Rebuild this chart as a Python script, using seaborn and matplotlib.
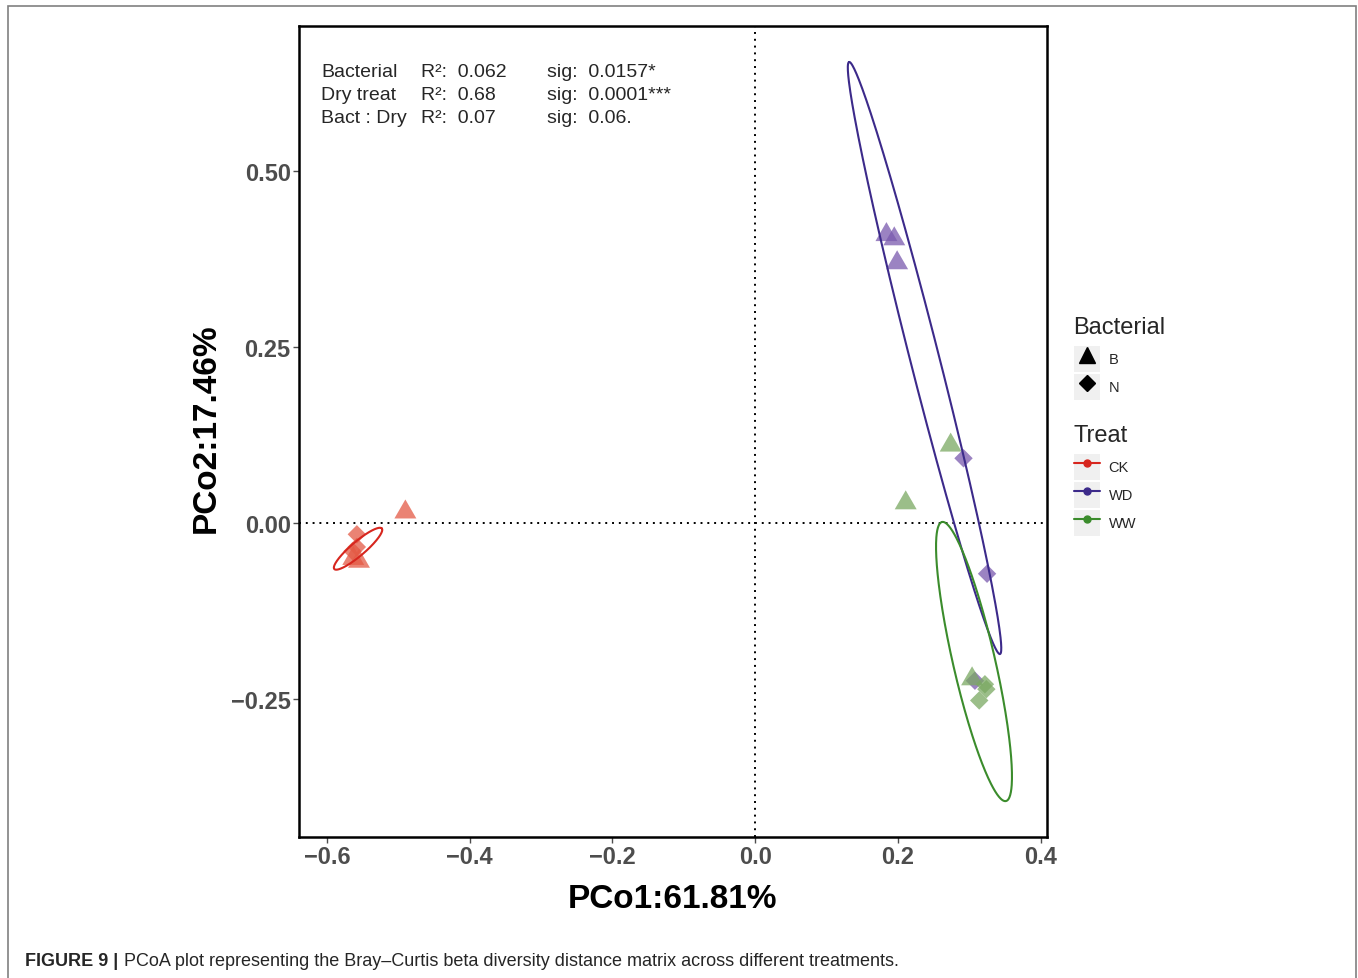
import numpy as np
import pandas as pd
import matplotlib
matplotlib.use("Agg")
import matplotlib.pyplot as plt
import seaborn as sns
from matplotlib.lines import Line2D
from matplotlib.patches import Rectangle
from matplotlib.legend_handler import HandlerTuple

# sample scores
treat = ["CK"] * 6 + ["WD"] * 6 + ["WW"] * 6
bacterial = ["B", "B", "B", "N", "N", "N"] * 3
pco1 = [-0.490, -0.563, -0.555, -0.558, -0.564, -0.558,
        0.184, 0.195, 0.199, 0.292, 0.325, 0.308,
        0.274, 0.211, 0.304, 0.322, 0.324, 0.314]
pco2 = [0.020, -0.046, -0.050, -0.016, -0.040, -0.034,
        0.414, 0.408, 0.374, 0.092, -0.072, -0.224,
        0.115, 0.033, -0.217, -0.229, -0.236, -0.252]

# confidence ellipses: centre, half major axis vector, half minor axis vector
treat_levels = ["CK", "WD", "WW"]
ell_cx = [-0.5563, 0.2374, 0.3067]
ell_cy = [-0.0365, 0.2344, -0.1967]
ell_ax = [0.0333, -0.1057, -0.0448]
ell_ay = [0.0288, 0.4205, 0.1982]
ell_bx = [-0.00636, 0.01968, 0.0287]
ell_by = [0.00756, 0.00509, 0.0067]

x_ticks = [-0.6, -0.4, -0.2, 0.0, 0.2, 0.4]
x_tick_labels = ["\u22120.6", "\u22120.4", "\u22120.2", "0.0", "0.2", "0.4"]
y_ticks = [-0.25, 0.0, 0.25, 0.50]
y_tick_labels = ["\u22120.25", "0.00", "0.25", "0.50"]

stat_terms = ["Bacterial", "Dry treat", "Bact : Dry"]
stat_r2 = ["0.062", "0.68", "0.07"]
stat_sig = ["0.0157*", "0.0001***", "0.06."]

point_colors = {"CK": "#E45A45", "WD": "#7A5AAE", "WW": "#7AA862"}
line_colors = {"CK": "#D7261E", "WD": "#3C2A8A", "WW": "#3B8C2C"}

sns.set_theme(style="white")
plt.rcParams["font.family"] = ["Liberation Sans", "DejaVu Sans"]

df = pd.DataFrame({"Treat": treat, "Bacterial": bacterial, "PCo1": pco1, "PCo2": pco2})

fig = plt.figure(figsize=(13.58, 9.79), dpi=100)
ax = fig.add_axes([0.2202, 0.144, 0.5508, 0.8284])

tri = [(-1, -0.866), (1, -0.866), (0, 0.866)]
ax.axhline(0, color="black", ls=(0, (1, 2.5)), lw=1.4, zorder=1)
ax.axvline(0, color="black", ls=(0, (1, 2.5)), lw=1.4, zorder=1)

sns.scatterplot(data=df, x="PCo1", y="PCo2", hue="Treat", style="Bacterial", size="Bacterial",
                palette=point_colors, markers={"B": tri, "N": "D"}, sizes={"B": 250, "N": 88},
                alpha=0.75, linewidth=0, legend=False, ax=ax, zorder=3)

t = np.linspace(0, 2 * np.pi, 300)
for i, lvl in enumerate(treat_levels):
    ex = ell_cx[i] + ell_ax[i] * np.cos(t) + ell_bx[i] * np.sin(t)
    ey = ell_cy[i] + ell_ay[i] * np.cos(t) + ell_by[i] * np.sin(t)
    ax.plot(ex, ey, color=line_colors[lvl], lw=1.5, zorder=4)

ax.set_xlim(-0.639, 0.409)
ax.set_ylim(-0.446, 0.706)
ax.set_xticks(x_ticks)
ax.set_xticklabels(x_tick_labels, fontweight="bold")
ax.set_yticks(y_ticks)
ax.set_yticklabels(y_tick_labels, fontweight="bold")
ax.tick_params(direction="out", length=4, width=1, color="#4D4D4D", labelcolor="#4D4D4D",
               labelsize=17, pad=2, bottom=True, left=True)
for sp in ax.spines.values():
    sp.set_color("black")
    sp.set_linewidth(1.8)

ax.set_xlabel("PCo1:61.81%", fontsize=24, fontweight="bold", color="black")
ax.set_ylabel("PCo2:17.46%", fontsize=24, fontweight="bold", color="black")
ax.xaxis.set_label_coords(0.4987, -0.057)
ax.yaxis.set_label_coords(-0.103, 0.505)

row_y = [0.9445, 0.916, 0.8878]
for i in range(3):
    ax.text(0.0294, row_y[i], stat_terms[i], transform=ax.transAxes, fontsize=14, va="center")
    ax.text(0.163, row_y[i], "R\u00b2:  " + stat_r2[i], transform=ax.transAxes, fontsize=14, va="center")
    ax.text(0.3316, row_y[i], "sig:  " + stat_sig[i], transform=ax.transAxes, fontsize=14, va="center")

key_bg = "#F0F0F0"
bact_handles = [
    (Rectangle((0, 0), 1, 1, fc=key_bg, ec="none"),
     Line2D([], [], ls="none", marker="^", ms=11, color="black")),
    (Rectangle((0, 0), 1, 1, fc=key_bg, ec="none"),
     Line2D([], [], ls="none", marker="D", ms=8, color="black")),
]
treat_handles = [
    (Rectangle((0, 0), 1, 1, fc=key_bg, ec="none"),
     Line2D([], [], color=line_colors[lvl], lw=1.5, marker="o", ms=5))
    for lvl in treat_levels
]
leg_kw = dict(frameon=False, fontsize=10.5, handlelength=1.78, handleheight=2.36,
              labelspacing=0.14, handletextpad=0.6, borderpad=0, borderaxespad=0,
              handler_map={tuple: HandlerTuple(ndivide=1)})
fig.legend(bact_handles, ["B", "N"], loc="upper left",
           bbox_to_anchor=(1074 / 1358, 1 - 347 / 979), **leg_kw)
fig.legend(treat_handles, treat_levels, loc="upper left",
           bbox_to_anchor=(1074 / 1358, 1 - 455 / 979), **leg_kw)
fig.text(1073 / 1358, 1 - 328 / 979, "Bacterial", fontsize=17, va="center", ha="left")
fig.text(1073 / 1358, 1 - 436 / 979, "Treat", fontsize=17, va="center", ha="left")

fig.text(25 / 1358, 1 - 962 / 979, "FIGURE 9 |", fontsize=13, fontweight="bold", va="center")
fig.text(124 / 1358, 1 - 962 / 979,
         "PCoA plot representing the Bray\u2013Curtis beta diversity distance matrix across different treatments.",
         fontsize=13, va="center")

fig.add_artist(Rectangle((8 / 1358, -0.05), 1348 / 1358, 1.05 - 7 / 979, transform=fig.transFigure,
                         fill=False, ec="#808080", lw=1.2))

fig.savefig("out.png", dpi=100)
